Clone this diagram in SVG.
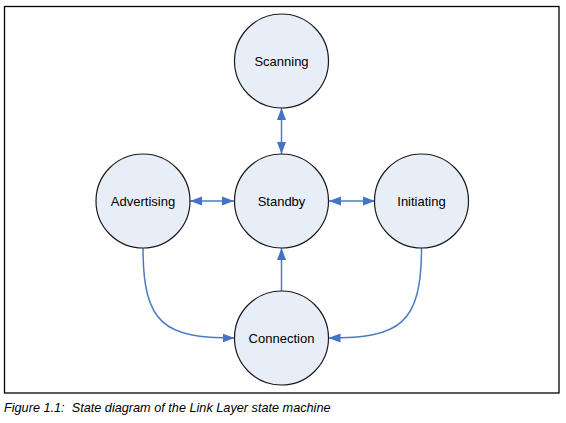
<svg xmlns="http://www.w3.org/2000/svg" width="566" height="423" viewBox="0 0 566 423">
<style>
.node circle{fill:#e8eef8;stroke:#1a1a1a;stroke-width:1.2}
.node text{font-family:"Liberation Sans",Arial,sans-serif;font-size:13px;fill:#000;text-anchor:middle;dominant-baseline:central}
.edge{fill:none;stroke:#4a7cc4;stroke-width:1.5}
.cap{font-family:"Liberation Sans",Arial,sans-serif;font-size:12.7px;font-style:italic;fill:#000}
</style>
<defs>
<marker id="ah" markerUnits="userSpaceOnUse" markerWidth="12" markerHeight="10" viewBox="0 0 12 10" refX="12" refY="5" orient="auto-start-reverse">
<path d="M0,0.5 L12,5 L0,9.5 z" fill="#4472c4"/>
</marker>
</defs>
<rect x="4.5" y="6.5" width="554.5" height="386.5" fill="none" stroke="#000" stroke-width="1.3"/>
<g id="connectors">
<path class="edge" d="M281.5,108 L281.5,154" marker-start="url(#ah)" marker-end="url(#ah)"/>
<path class="edge" d="M190,201 L234,201" marker-start="url(#ah)" marker-end="url(#ah)"/>
<path class="edge" d="M329,201 L375,201" marker-start="url(#ah)" marker-end="url(#ah)"/>
<path class="edge" d="M281.5,291 L281.5,248" marker-end="url(#ah)"/>
<path class="edge" d="M143,248 C143,325 165,338 234.5,338" marker-end="url(#ah)"/>
<path class="edge" d="M421.5,248 C421.5,325 399,338 328.5,338" marker-end="url(#ah)"/>
</g>
<g id="scanning" class="node"><circle cx="281.5" cy="61" r="47"/><text x="281.5" y="61">Scanning</text></g>
<g id="standby" class="node"><circle cx="281.5" cy="201" r="47"/><text x="281.5" y="201">Standby</text></g>
<g id="advertising" class="node"><circle cx="143" cy="201" r="47"/><text x="143" y="201">Advertising</text></g>
<g id="initiating" class="node"><circle cx="421.5" cy="201" r="47"/><text x="421.5" y="201">Initiating</text></g>
<g id="connection" class="node"><circle cx="281.5" cy="338" r="47"/><text x="281.5" y="338">Connection</text></g>
<text class="cap" x="4" y="412" xml:space="preserve">Figure 1.1:  State diagram of the Link Layer state machine</text>
</svg>
